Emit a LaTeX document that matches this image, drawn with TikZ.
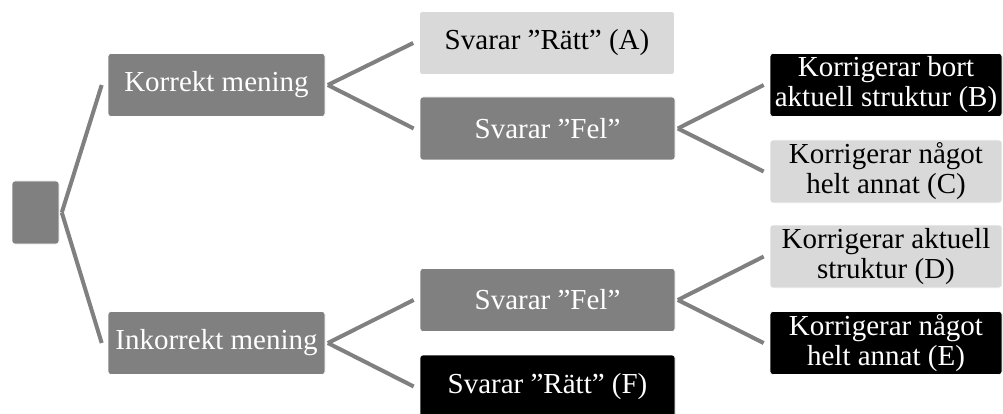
\documentclass[tikz,border=0pt]{standalone}
\usepackage{fontspec}
\setmainfont{Liberation Serif}
\definecolor{midgray}{HTML}{808080}
\definecolor{lightgray}{HTML}{D9D9D9}
\tikzset{
  box/.style={rectangle, rounded corners=3pt, draw=white, line width=0.6pt,
    inner sep=0pt, align=center, minimum height=63pt,
    font=\fontsize{29}{30}\selectfont},
  graybox/.style={box, fill=midgray, text=white},
  lightbox/.style={box, fill=lightgray, text=black},
  darkbox/.style={box, fill=black, text=white},
  conn/.style={draw=midgray, line width=4pt},
}
\begin{document}
\begin{tikzpicture}[x=1pt,y=-1pt]
\useasboundingbox (0,0) rectangle (1003,414);
% root and first level
\node[graybox, minimum width=47pt] (root) at (35.5,212.5) {};
\node[graybox, minimum width=217pt] (kor) at (216.5,85) {Korrekt mening};
\node[graybox, minimum width=217pt] (ink) at (216.5,343) {Inkorrekt mening};
% second level
\node[lightbox, minimum width=255pt] (a) at (547,43) {Svarar ”Rätt” (A)};
\node[graybox, minimum width=255pt] (fel1) at (547.5,128.5) {Svarar ”Fel”};
\node[graybox, minimum width=255pt] (fel2) at (547.5,300) {Svarar ”Fel”};
\node[darkbox, minimum width=255pt] (f) at (547.5,386.5) {Svarar ”Rätt” (F)};
% third level
\node[darkbox, minimum width=232pt] (b) at (886,85) {Korrigerar bort\\aktuell struktur (B)};
\node[lightbox, minimum width=232pt] (c) at (886,171.5) {Korrigerar något\\helt annat (C)};
\node[lightbox, minimum width=232pt] (d) at (886,256.5) {Korrigerar aktuell\\struktur (D)};
\node[darkbox, minimum width=232pt] (e) at (886,343) {Korrigerar något\\helt annat (E)};
% connectors
\foreach \p/\c in {root/kor, root/ink, kor/a, kor/fel1, ink/fel2, ink/f,
                   fel1/b, fel1/c, fel2/d, fel2/e}
  \draw[conn] ([xshift=2.5pt]\p.east) -- ([xshift=-6pt]\c.west);
\end{tikzpicture}
\end{document}
